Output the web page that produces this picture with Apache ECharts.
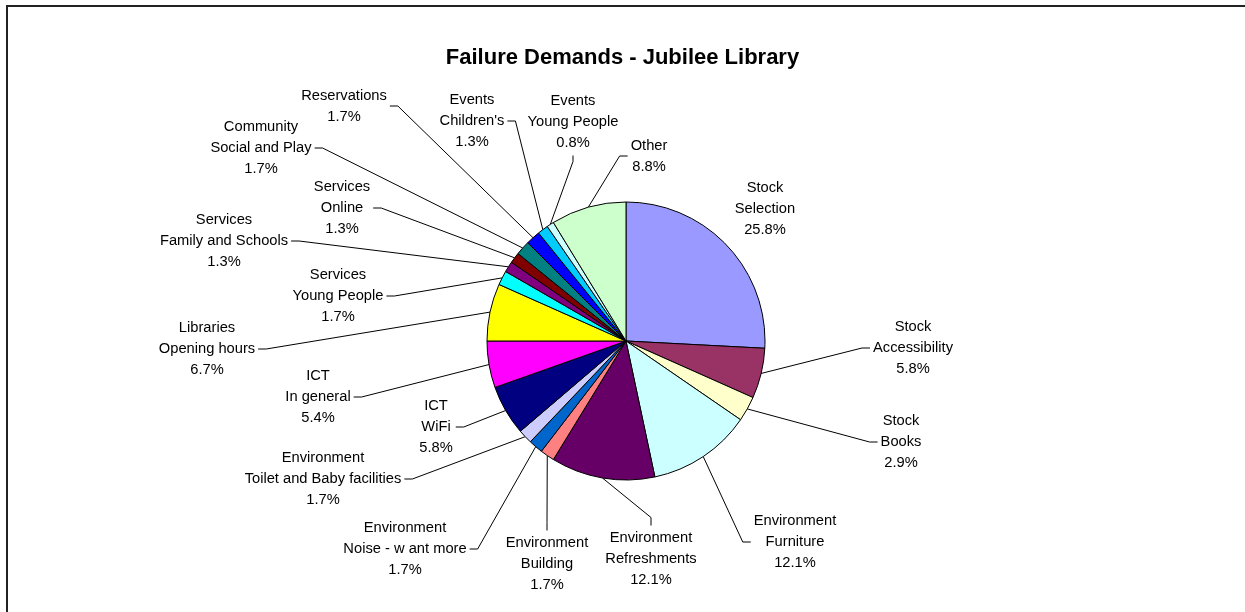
<!DOCTYPE html>
<html>
<head>
<meta charset="utf-8">
<title>Failure Demands - Jubilee Library</title>
<script src="https://cdn.jsdelivr.net/npm/echarts@6/dist/echarts.min.js"></script>
<style>
  html, body { margin: 0; padding: 0; background: #fff; }
  #main { width: 1245px; height: 612px; }
</style>
</head>
<body>
<div id="main"></div>
<script>
// demand categories, clockwise from 12 o'clock
const categories = [
  'Stock\nSelection', 'Stock\nAccessibility', 'Stock\nBooks',
  'Environment\nFurniture', 'Environment\nRefreshments', 'Environment\nBuilding',
  'Environment\nNoise - w ant more', 'Environment\nToilet and Baby facilities',
  'ICT\nWiFi', 'ICT\nIn general', 'Libraries\nOpening hours',
  'Services\nYoung People', 'Services\nFamily and Schools', 'Services\nOnline',
  'Community\nSocial and Play', 'Reservations', "Events\nChildren's",
  'Events\nYoung People', 'Other'
];
// number of failure demands recorded (240 in total)
const counts = [62, 14, 7, 29, 29, 4, 4, 4, 14, 13, 16, 4, 3, 3, 4, 4, 3, 2, 21];

// old excel palette, one per slice
const palette = [
  '#9999FF', '#993366', '#FFFFCC', '#CCFFFF', '#660066', '#FF8080', '#0066CC',
  '#CCCCFF', '#000080', '#FF00FF', '#FFFF00', '#00FFFF', '#800080', '#800000',
  '#008080', '#0000FF', '#00CCFF', '#CCFFFF', '#CCFFCC'
];

// where each label sits (centre x, centre y) and which side the leader line leaves from
const labelSpots = [
  [765, 209, null], [913, 348, 'left'], [901, 442, 'left'],
  [795, 542, 'left'], [651, 559, 'top'], [547, 564, 'top'],
  [405, 549, 'right'], [323, 479, 'right'], [436, 427, 'right'],
  [318, 397, 'right'], [207, 349, 'right'], [338, 296, 'right'],
  [224, 241, 'right'], [342, 208, 'right'], [261, 148, 'right'],
  [344, 106, 'right'], [472, 121, 'right'], [573, 122, 'bottom'],
  [649, 156, 'left']
];

const total = counts.reduce((a, b) => a + b, 0);
const font = '"Liberation Sans", Arial, sans-serif';

let myChart = echarts.init(document.getElementById('main'));
myChart.setOption({
  animation: false,
  title: {
    text: 'Failure Demands - Jubilee Library',
    left: 'center',
    top: 42,
    textStyle: { fontFamily: font, fontSize: 22, fontWeight: 'bold', color: '#000' }
  },
  // chart frame
  graphic: [{
    type: 'rect',
    shape: { x: 7, y: 6, width: 1260, height: 630 },
    style: { fill: 'none', stroke: '#222', lineWidth: 2 }
  }],
  series: [{
    type: 'pie',
    center: [626, 341],
    radius: 139,
    startAngle: 90,
    clockwise: true,
    avoidLabelOverlap: false,
    emphasis: { disabled: true },
    itemStyle: { borderColor: '#000', borderWidth: 1 },
    label: {
      show: true,
      position: 'outside',
      color: '#000',
      fontFamily: font,
      fontSize: 14.7,
      lineHeight: 21,
      align: 'center',
      formatter: p => p.name + '\n' + (p.value / total * 100).toFixed(1) + '%'
    },
    labelLine: {
      show: true,
      length: 10,
      length2: 10,
      lineStyle: { color: '#000', width: 1 }
    },
    labelLayout: function (params) {
      const spot = labelSpots[params.dataIndex];
      const w = params.labelRect.width;
      const h = params.labelRect.height;
      const out = { x: spot[0], y: spot[1], align: 'center', verticalAlign: 'middle' };
      const pts = params.labelLinePoints;
      if (spot[2] && pts && pts.length) {
        let ax = spot[0], ay = spot[1], dx = 0, dy = 0;
        if (spot[2] === 'left') { ax -= w / 2 + 3; dx = -8; }
        if (spot[2] === 'right') { ax += w / 2 + 3; dx = 8; }
        if (spot[2] === 'top') { ay -= h / 2 + 2; dy = -8; }
        if (spot[2] === 'bottom') { ay += h / 2 + 2; dy = 6; }
        out.labelLinePoints = [pts[0], [ax + dx, ay + dy], [ax, ay]];
      }
      return out;
    },
    data: categories.map((name, i) => ({
      name: name,
      value: counts[i],
      itemStyle: { color: palette[i] },
      labelLine: { show: labelSpots[i][2] != null }
    }))
  }]
});
</script>
</body>
</html>
